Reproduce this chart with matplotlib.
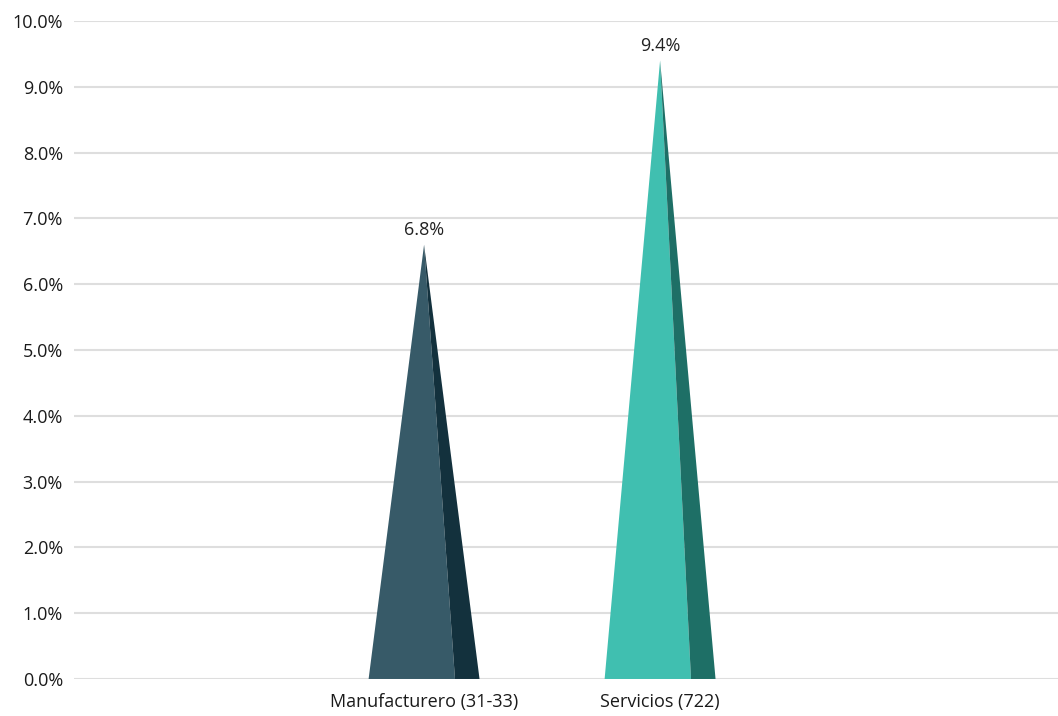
import matplotlib.pyplot as plt
from matplotlib.patches import Polygon

# 데이터
categories = ['Manufacturero (31-33)', 'Servicios (722)']
peak_values = [6.6, 9.4]          # altura dibujada del pico
value_labels = ['6.8%', '9.4%']   # etiquetas tal como aparecen
yticks = [0, 1, 2, 3, 4, 5, 6, 7, 8, 9, 10]

light_colors = ['#375a68', '#40bfb0']
dark_colors = ['#13313d', '#1e6f66']

plt.rcParams['font.family'] = ['Open Sans', 'DejaVu Sans']

fig = plt.figure(figsize=(10.58, 7.16), dpi=100)
ax = fig.add_axes([0.070, 0.0517, 0.930, 0.919])

half_w = 0.235   # media base de la pirámide
split = 0.131    # desplazamiento de la arista en la base

for i, (h, lab) in enumerate(zip(peak_values, value_labels)):
    light = Polygon([(i - half_w, 0), (i + split, 0), (i, h)], closed=True,
                    facecolor=light_colors[i], edgecolor='none', zorder=3)
    dark = Polygon([(i + split, 0), (i + half_w, 0), (i, h)], closed=True,
                   facecolor=dark_colors[i], edgecolor='none', zorder=3)
    ax.add_patch(light)
    ax.add_patch(dark)
    ax.annotate(lab, (i, h), xytext=(0, 4), textcoords='offset points',
                ha='center', va='bottom', fontsize=13, color='#222222')

ax.set_xlim(-1.483, 2.686)
ax.set_ylim(0, 10)
ax.set_yticks(yticks)
ax.set_yticklabels([f'{v:.1f}%' for v in yticks])
ax.set_xticks(range(len(categories)))
ax.set_xticklabels(categories)

ax.grid(axis='y', color='#dedede', linewidth=1.5, zorder=0)
ax.set_axisbelow(True)
for s in ax.spines.values():
    s.set_visible(False)
ax.tick_params(axis='y', length=0, pad=8, labelsize=13, labelcolor='#1a1a1a')
ax.tick_params(axis='x', length=0, pad=10, labelsize=13, labelcolor='#1a1a1a')

plt.savefig('out.png', dpi=100)
